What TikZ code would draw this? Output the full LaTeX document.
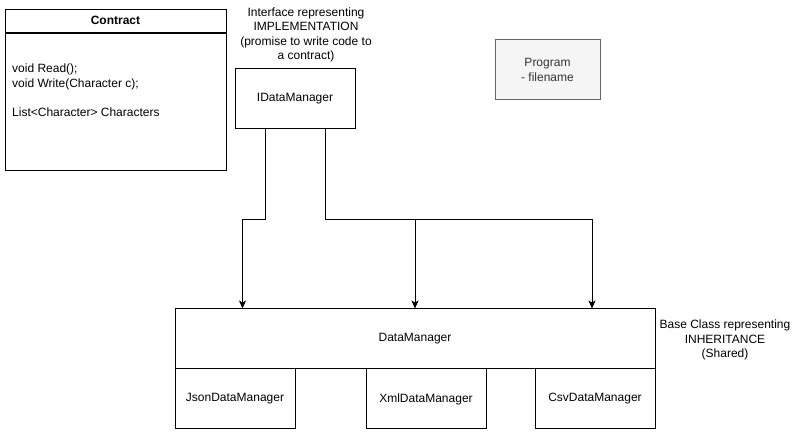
\documentclass[tikz,border=0pt]{standalone}
\usepackage{fontspec}
\setmainfont{Liberation Sans}
\usetikzlibrary{arrows.meta}
\definecolor{progfill}{HTML}{F5F5F5}
\definecolor{progline}{HTML}{666666}
\definecolor{progtext}{HTML}{333333}
\newcommand{\diafont}{\fontsize{12}{14.4}\selectfont}

\begin{document}
\begin{tikzpicture}[x=1pt,y=-1pt,
    every node/.style={font=\diafont},
    box/.style={draw,line width=1pt,inner sep=0pt,minimum width=120pt,minimum height=60pt},
    arrow/.style={line width=1pt,-{Stealth[length=8pt,width=7pt,inset=2pt]}}]
    \useasboundingbox (0,0) rectangle (801,435);
    % contract
    \node[box,minimum width=221pt,minimum height=23pt,font=\diafont\bfseries] (contract) at (115.5,20.75) {Contract};
    \node[box,minimum width=221pt,minimum height=137pt,anchor=north] (members) at (contract.south) {};
    \node[anchor=north west,align=left,inner sep=0pt] (memberlist) at (12,64) {void Read();\\void Write(Character c);\\[14.4pt]List<Character> Characters};
    % interface
    \node[align=center] (ifacelabel) at (306,35) {Interface representing\\IMPLEMENTATION\\(promise to write code to\\a contract)};
    \node[box] (idm) at (295,99) {IDataManager};
    \node[box,align=center,fill=progfill,draw=progline,text=progtext,minimum width=105pt] (prog) at (547.5,70) {Program\\- filename};
    % base class and children
    \node[box,minimum width=480pt] (dm) at (415,339) {DataManager};
    \node[box] (json) at (235,399) {JsonDataManager};
    \node[box] (xml) at (426,399) {XmlDataManager};
    \node[box] (csv) at (595,399) {CsvDataManager};
    \node[align=center] (baselabel) at (725,340) {Base Class representing\\INHERITANCE\\(Shared)};
    % connectors
    \draw[arrow] ([xshift=-30pt]idm.south) -- ++(0,90) -| ([xshift=-172.5pt]dm.north);
    \draw[arrow] ([xshift=30pt]idm.south) -- ++(0,90) -| (dm.north);
    \draw[arrow] ([xshift=30pt]idm.south) -- ++(0,90) -| ([xshift=177pt]dm.north);
\end{tikzpicture}
\end{document}
